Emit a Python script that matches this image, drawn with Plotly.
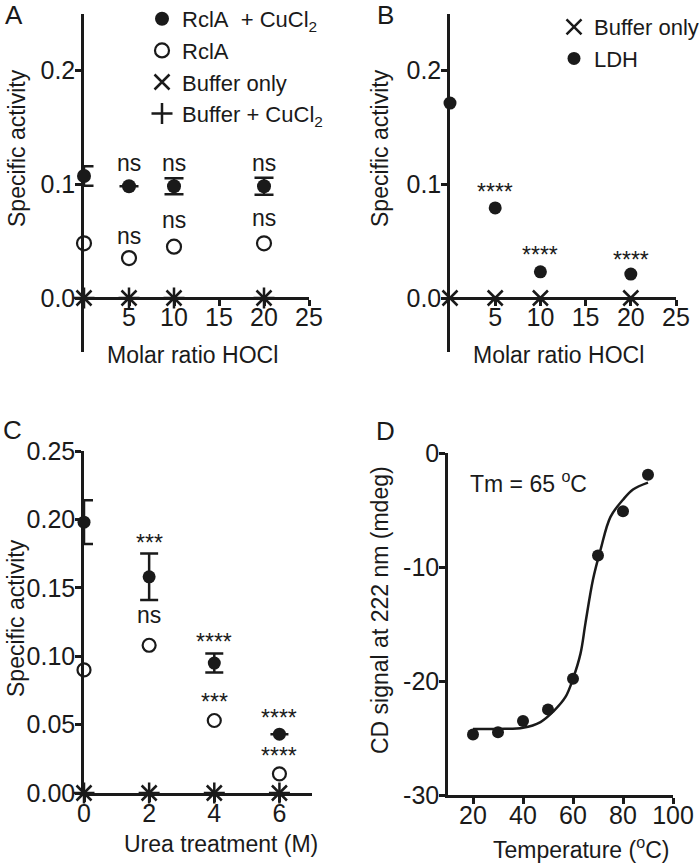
import plotly.graph_objects as go

# ---- data ----
# Panel A: RclA activity after HOCl treatment
a_ratio = [0, 5, 10, 20]
a_rcla_cu = [0.107, 0.098, 0.098, 0.098]
a_rcla_cu_err = [0.0085, 0.0, 0.007, 0.0075]
a_rcla = [0.048, 0.035, 0.045, 0.048]
a_buffer = [0, 0, 0, 0]
a_buffer_cu = [0, 0, 0, 0]
a_sig_cu = ["ns", "ns", "ns"]
a_sig_rcla = ["ns", "ns", "ns"]

# Panel B: LDH control
b_ratio = [0, 5, 10, 20]
b_ldh = [0.171, 0.079, 0.023, 0.021]
b_buffer = [0, 0, 0, 0]
b_sig = ["****", "****", "****"]

# Panel C: urea treatment
c_urea = [0, 2, 4, 6]
c_rcla_cu = [0.198, 0.158, 0.095, 0.043]
c_rcla_cu_err = [0.016, 0.017, 0.007, 0.0]
c_rcla = [0.090, 0.108, 0.053, 0.014]
c_buffer = [0, 0, 0, 0]
c_buffer_cu = [0, 0, 0, 0]
c_sig_cu = ["***", "****", "****"]
c_sig_rcla = ["ns", "***", "****"]

# Panel D: CD thermal melt
d_temp = [20, 30, 40, 50, 60, 70, 80, 90]
d_cd = [-24.7, -24.5, -23.5, -22.5, -19.8, -9.0, -5.1, -1.9]
d_fit_temp = [20, 30, 40, 47, 52, 57, 60, 63, 65, 68, 71, 75, 80, 84, 90]
d_fit_cd = [-24.2, -24.2, -24.1, -23.6, -22.7, -21.4, -19.8, -17.6, -14.9,
            -11.1, -8.5, -5.6, -4.1, -3.2, -2.6]

W, H = 700, 863
INK = "#1a1a1a"
FONT = "Liberation Sans, Arial, sans-serif"


def px_x(p):
    return p / W


def px_y(p):
    return 1 - p / H


fig = go.Figure()

filled = dict(color=INK, size=14, line=dict(width=0))
opened = dict(color="white", size=14, symbol="circle-open", line=dict(color=INK, width=2.2))
xmark = dict(color=INK, size=15, symbol="x-thin", line=dict(color=INK, width=2.5))
pmark = dict(color=INK, size=15, symbol="cross-thin", line=dict(color=INK, width=2.5))

# ---- Panel A ----
fig.add_trace(go.Scatter(x=a_ratio, y=a_rcla_cu, mode="markers", name="RclA\u00a0 + CuCl<sub>2</sub>",
                         marker=filled, cliponaxis=False, legend="legend",
                         error_y=dict(type="data", array=a_rcla_cu_err, color=INK, thickness=2.5, width=9.5),
                         xaxis="x", yaxis="y"))
fig.add_trace(go.Scatter(x=a_ratio, y=a_rcla, mode="markers", name="RclA",
                         marker=dict(opened, symbol="circle"), cliponaxis=False, legend="legend",
                         xaxis="x", yaxis="y"))
fig.add_trace(go.Scatter(x=a_ratio, y=a_buffer, mode="markers", name="Buffer only",
                         marker=xmark, cliponaxis=False, legend="legend", xaxis="x", yaxis="y"))
fig.add_trace(go.Scatter(x=a_ratio, y=a_buffer_cu, mode="markers", name="Buffer + CuCl<sub>2</sub>",
                         marker=pmark, cliponaxis=False, legend="legend", xaxis="x", yaxis="y"))

# ---- Panel B ----
fig.add_trace(go.Scatter(x=b_ratio, y=b_buffer, mode="markers", name="Buffer only",
                         marker=xmark, cliponaxis=False, legend="legend2", xaxis="x2", yaxis="y2"))
fig.add_trace(go.Scatter(x=b_ratio, y=b_ldh, mode="markers", name="LDH",
                         marker=dict(filled, size=13), cliponaxis=False, legend="legend2",
                         xaxis="x2", yaxis="y2"))

# ---- Panel C ----
fig.add_trace(go.Scatter(x=c_urea, y=c_rcla_cu, mode="markers", showlegend=False,
                         marker=dict(filled, size=13), cliponaxis=False,
                         error_y=dict(type="data", array=c_rcla_cu_err, color=INK, thickness=2.5, width=9),
                         xaxis="x3", yaxis="y3"))
fig.add_trace(go.Scatter(x=c_urea, y=c_rcla, mode="markers", showlegend=False,
                         marker=dict(opened, symbol="circle", size=13), cliponaxis=False,
                         xaxis="x3", yaxis="y3"))
fig.add_trace(go.Scatter(x=c_urea, y=c_buffer, mode="markers", showlegend=False,
                         marker=xmark, cliponaxis=False, xaxis="x3", yaxis="y3"))
fig.add_trace(go.Scatter(x=c_urea, y=c_buffer_cu, mode="markers", showlegend=False,
                         marker=pmark, cliponaxis=False, xaxis="x3", yaxis="y3"))

# ---- Panel D ----
fig.add_trace(go.Scatter(x=d_fit_temp, y=d_fit_cd, mode="lines", showlegend=False,
                         line=dict(color=INK, width=2.5, shape="spline", smoothing=1.0),
                         xaxis="x4", yaxis="y4"))
fig.add_trace(go.Scatter(x=d_temp, y=d_cd, mode="markers", showlegend=False,
                         marker=dict(filled, size=12), cliponaxis=False, xaxis="x4", yaxis="y4"))

axis_common = dict(showgrid=False, zeroline=False, showline=True, linecolor=INK, linewidth=2.5,
                   ticks="outside", ticklen=6, tickwidth=2.5, tickcolor=INK, automargin=False,
                   tickfont=dict(size=25, color=INK, family=FONT))
x_common = dict(axis_common, ticklabelstandoff=-10)
y_common = dict(axis_common, ticklabelstandoff=-5)

# panel A / B geometry: y axis from px 14 to 352, zero line at px 298
ab_ymin = -(352 - 298) / 1140
ab_ymax = (298 - 14) / 1140
ab_dom_y = [px_y(352), px_y(14)]
zero_pos = px_y(298)

fig.update_layout(
    xaxis=dict(x_common, domain=[px_x(84), px_x(309)], range=[0, 25], tickvals=[5, 10, 15, 20, 25],
               anchor="free", position=zero_pos),
    yaxis=dict(y_common, domain=ab_dom_y, range=[ab_ymin, ab_ymax], tickvals=[0, 0.1, 0.2],
               tickformat=".1f", anchor="x"),
    xaxis2=dict(x_common, domain=[px_x(450), px_x(676)], range=[0, 25], tickvals=[5, 10, 15, 20, 25],
                anchor="free", position=zero_pos),
    yaxis2=dict(y_common, domain=ab_dom_y, range=[ab_ymin, ab_ymax], tickvals=[0, 0.1, 0.2],
                tickformat=".1f", anchor="x2"),
    xaxis3=dict(x_common, domain=[px_x(84), px_x(312)], range=[0, 7], tickvals=[0, 2, 4, 6],
                anchor="y3"),
    yaxis3=dict(y_common, domain=[px_y(793), px_y(451)], range=[0, 0.25],
                tickvals=[0, 0.05, 0.10, 0.15, 0.20, 0.25], tickformat=".2f", anchor="x3"),
    xaxis4=dict(x_common, domain=[px_x(448), px_x(673)], range=[10, 100], tickvals=[20, 40, 60, 80, 100],
                anchor="y4"),
    yaxis4=dict(y_common, domain=[px_y(795), px_y(453)], range=[-30, 0],
                tickvals=[-30, -20, -10, 0], ticktext=["-30", "-20", "-10", "0"], anchor="x4"),
)

# ---- text: titles, panel letters, significance ----
ann = []


def text(x, y, s, size=23, angle=0, xanchor="center"):
    ann.append(dict(x=px_x(x), y=px_y(y), xref="paper", yref="paper", text=s, showarrow=False,
                    textangle=angle, xanchor=xanchor, yanchor="middle",
                    font=dict(size=size, color=INK, family=FONT)))


text(14, 15, "A", 26)
text(385, 15, "B", 26)
text(12, 430, "C", 26)
text(385, 431, "D", 26)

text(17, 148, "Specific activity", angle=-90)
text(380, 148, "Specific activity", angle=-90)
text(16, 618, "Specific activity", angle=-90)
text(380, 610, "CD signal at 222 nm (mdeg)", angle=-90)

text(192, 355, "Molar ratio HOCl")
text(558, 355, "Molar ratio HOCl")
text(221, 844, "Urea treatment (M)")
text(581, 848, "Temperature (<sup>o</sup>C)")
text(468, 482, "Tm = 65 <sup>o</sup>C", xanchor="left")


def sig(xref, yref, xs, ys, labels, shifts):
    for xv, yv, lab, sh in zip(xs, ys, labels, shifts):
        ann.append(dict(x=xv, y=yv, xref=xref, yref=yref, text=lab, showarrow=False,
                        xanchor="center", yanchor="middle", yshift=sh,
                        font=dict(size=23, color=INK, family=FONT)))


sig("x", "y", a_ratio[1:], a_rcla_cu[1:], a_sig_cu, [23, 23, 23])
sig("x", "y", a_ratio[1:], a_rcla[1:], a_sig_rcla, [22, 27, 25])
sig("x2", "y2", b_ratio[1:], b_ldh[1:], b_sig, [16, 17, 14])
sig("x3", "y3", c_urea[1:], c_rcla_cu[1:], c_sig_cu, [34, 21, 16])
sig("x3", "y3", c_urea[1:], c_rcla[1:], c_sig_rcla, [30, 19, 18])

legend_common = dict(font=dict(size=22, color=INK, family=FONT), bgcolor="rgba(0,0,0,0)",
                     borderwidth=0, tracegroupgap=0, itemsizing="trace",
                     xanchor="left", yanchor="top")

fig.update_layout(
    width=W, height=H,
    margin=dict(l=0, r=0, t=0, b=0, autoexpand=False),
    paper_bgcolor="white", plot_bgcolor="white",
    font=dict(family=FONT, color=INK),
    annotations=ann,
    legend=dict(legend_common, x=px_x(142), y=px_y(-2)),
    legend2=dict(legend_common, x=px_x(554), y=px_y(6)),
)

# the page's default body margin would shift the figure by 8px
fig.write_html("out.html", config={"displayModeBar": False},
               post_script="document.body.style.margin='0';document.body.style.overflow='hidden';")
